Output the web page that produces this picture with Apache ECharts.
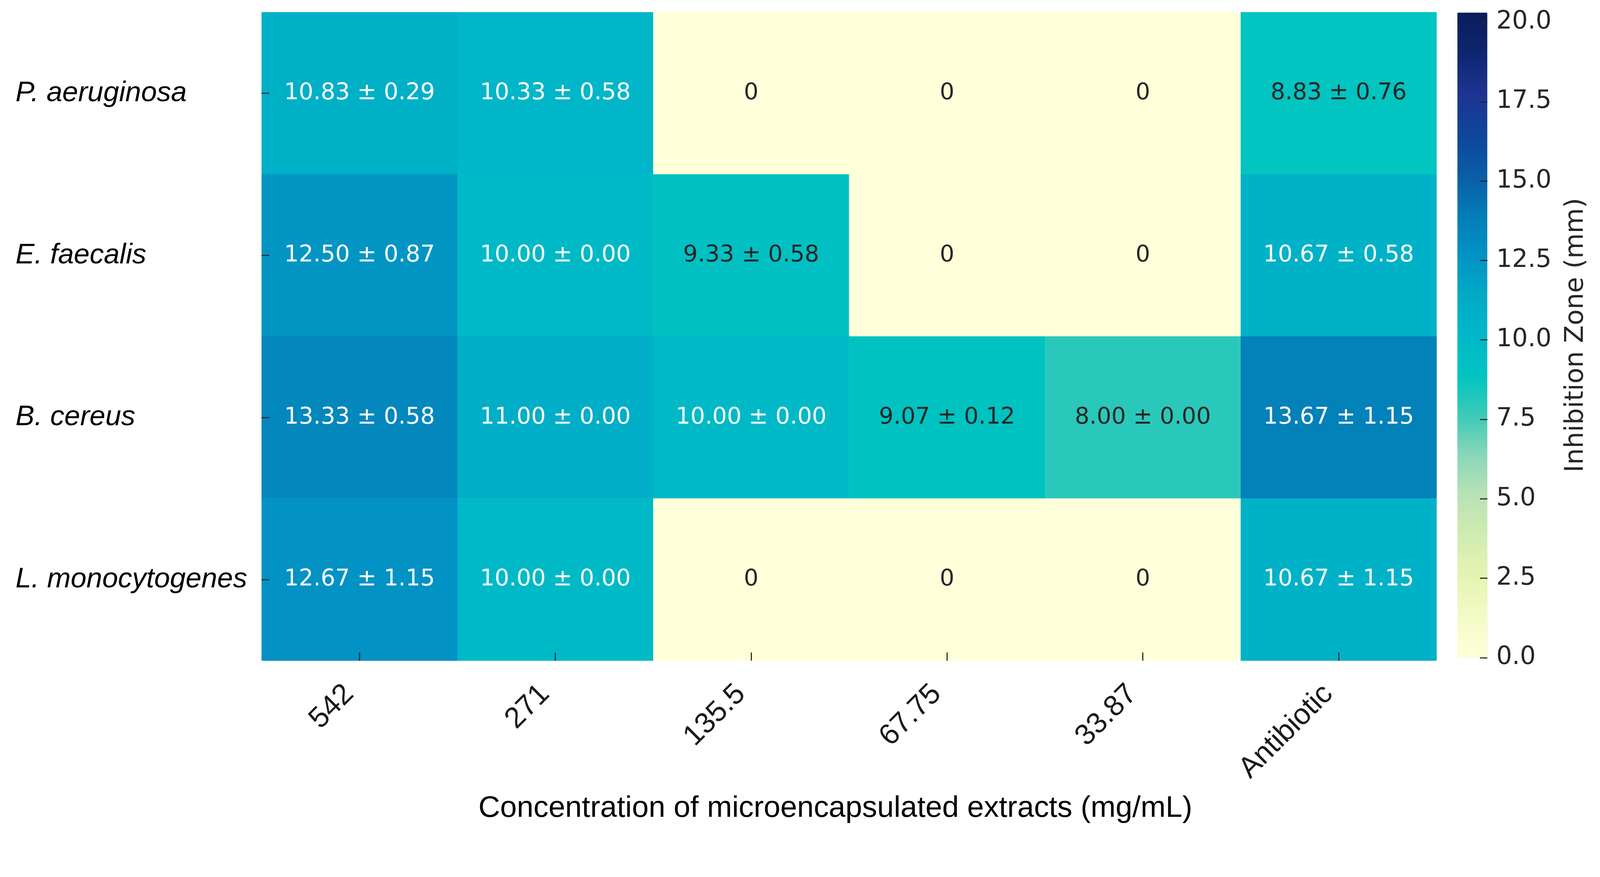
<!DOCTYPE html>
<html>
<head>
<meta charset="utf-8">
<script src="https://cdn.jsdelivr.net/npm/echarts@6/dist/echarts.min.js"></script>
<style>
html,body{margin:0;padding:0;background:#fff;overflow:hidden;}
#chart{width:100vw;height:100vh;}
</style>
</head>
<body>
<div id="chart"></div>
<script>
// ---- data ----
const concentrations = ['542', '271', '135.5', '67.75', '33.87', 'Antibiotic'];
const organisms = ['P. aeruginosa', 'E. faecalis', 'B. cereus', 'L. monocytogenes'];

const meanPAeruginosa = [10.83, 10.33, 0, 0, 0, 8.83];
const meanEFaecalis   = [12.50, 10.00, 9.33, 0, 0, 10.67];
const meanBCereus     = [13.33, 11.00, 10.00, 9.07, 8.00, 13.67];
const meanLMono       = [12.67, 10.00, 0, 0, 0, 10.67];

const sdPAeruginosa = [0.29, 0.58, 0, 0, 0, 0.76];
const sdEFaecalis   = [0.87, 0.00, 0.58, 0, 0, 0.58];
const sdBCereus     = [0.58, 0.00, 0.00, 0.12, 0.00, 1.15];
const sdLMono       = [1.15, 0.00, 0, 0, 0, 1.15];

const colorbarTicks = [0, 2.5, 5, 7.5, 10, 12.5, 15, 17.5, 20];
const colorbarMin = 0;
const colorbarMax = 20.3;

// ---- build ----
const means = [meanPAeruginosa, meanEFaecalis, meanBCereus, meanLMono];
const sds = [sdPAeruginosa, sdEFaecalis, sdBCereus, sdLMono];

const cellData = [];
means.forEach((row, yi) => {
  row.forEach((v, xi) => {
    cellData.push({
      value: [xi, yi, v],
      sd: sds[yi][xi],
      label: { color: v >= 10 ? '#ffffff' : '#262626' }
    });
  });
});

const colorStops = [
  '#FFFFD9', '#F4FBC6', '#E5F4B2', '#D2ECB2', '#B9E3B4', '#8CD6B8',
  '#3DCAB8', '#00C4C0', '#00B8C8', '#00A9C6', '#0292C4', '#037CB6',
  '#0A5CA5', '#0F4599', '#1E3392', '#0E2670', '#081D58'
];

// layout scale: reference is 4318 px wide
const W = window.innerWidth, H = window.innerHeight;
const s = Math.min(W / 4318, H / 2244);
const S = v => v * s;

const chart = echarts.init(document.getElementById('chart'), null, {renderer: 'canvas', width: W, height: H});

const option = {
  backgroundColor: '#ffffff',
  animation: false,
  grid: [
    { left: S(706), top: S(33), width: S(3171), height: S(1749) },
    { left: S(3933), top: S(34), width: S(81), height: S(1740) }
  ],
  xAxis: [
    {
      gridIndex: 0,
      type: 'category',
      data: concentrations,
      position: 'bottom',
      z: 10,
      axisLine: { show: false },
      axisTick: { show: true, inside: true, alignWithLabel: true, length: S(22), lineStyle: { color: '#262626', width: S(3) } },
      axisLabel: {
        rotate: 45, margin: S(106), fontSize: S(79), color: '#1a1a1a',
        verticalAlign: 'bottom',
        fontFamily: 'Liberation Sans, Arial, sans-serif', interval: 0
      },
      splitLine: { show: false },
      name: 'Concentration of microencapsulated extracts (mg/mL)',
      nameLocation: 'middle',
      nameGap: S(358),
      nameTextStyle: { fontSize: S(81), color: '#000', fontFamily: 'Liberation Sans, Arial, sans-serif', padding: [0, S(74), 0, 0] }
    },
    {
      gridIndex: 1,
      type: 'category',
      data: [''],
      show: false
    }
  ],
  yAxis: [
    {
      gridIndex: 0,
      type: 'category',
      data: organisms,
      inverse: true,
      z: 10,
      axisLine: { show: false },
      axisTick: { show: true, inside: true, alignWithLabel: true, length: S(20), lineStyle: { color: '#262626', width: S(3) } },
      axisLabel: {
        fontSize: S(76.5), fontStyle: 'italic', color: '#000', align: 'left', margin: S(664),
        fontFamily: 'Liberation Sans, Arial, sans-serif'
      },
      splitLine: { show: false }
    },
    {
      gridIndex: 1,
      type: 'value',
      min: colorbarMin,
      max: colorbarMax,
      position: 'right',
      z: 10,
      axisLine: { show: false },
      splitLine: { show: false },
      axisTick: { show: true, inside: true, length: S(20), customValues: colorbarTicks, lineStyle: { color: '#262626', width: S(3) } },
      axisLabel: {
        customValues: colorbarTicks, margin: S(24), fontSize: S(67), color: '#262626',
        fontFamily: 'DejaVu Sans, sans-serif',
        formatter: v => Number(v).toFixed(1)
      },
      name: 'Inhibition Zone (mm)',
      nameLocation: 'middle',
      nameRotate: 90,
      nameGap: S(205),
      nameTextStyle: { fontSize: S(70), color: '#262626', fontFamily: 'DejaVu Sans, sans-serif' }
    }
  ],
  visualMap: {
    type: 'continuous',
    min: colorbarMin,
    max: colorbarMax,
    seriesIndex: 0,
    orient: 'vertical',
    left: S(3933),
    top: S(34),
    itemWidth: S(81),
    itemHeight: S(1740),
    padding: 0,
    calculable: false,
    showLabel: false,
    text: null,
    inRange: { color: colorStops }
  },
  series: [
    {
      type: 'heatmap',
      xAxisIndex: 0,
      yAxisIndex: 0,
      data: cellData,
      label: {
        show: true,
        fontSize: S(62),
        fontFamily: 'DejaVu Sans, sans-serif',
        formatter: p => {
          const v = p.value[2];
          if (v === 0) return '0';
          return v.toFixed(2) + ' \u00B1 ' + p.data.sd.toFixed(2);
        }
      },
      itemStyle: { borderWidth: 0 },
      emphasis: { disabled: true }
    }
  ]
};

chart.setOption(option);
</script>
</body>
</html>
